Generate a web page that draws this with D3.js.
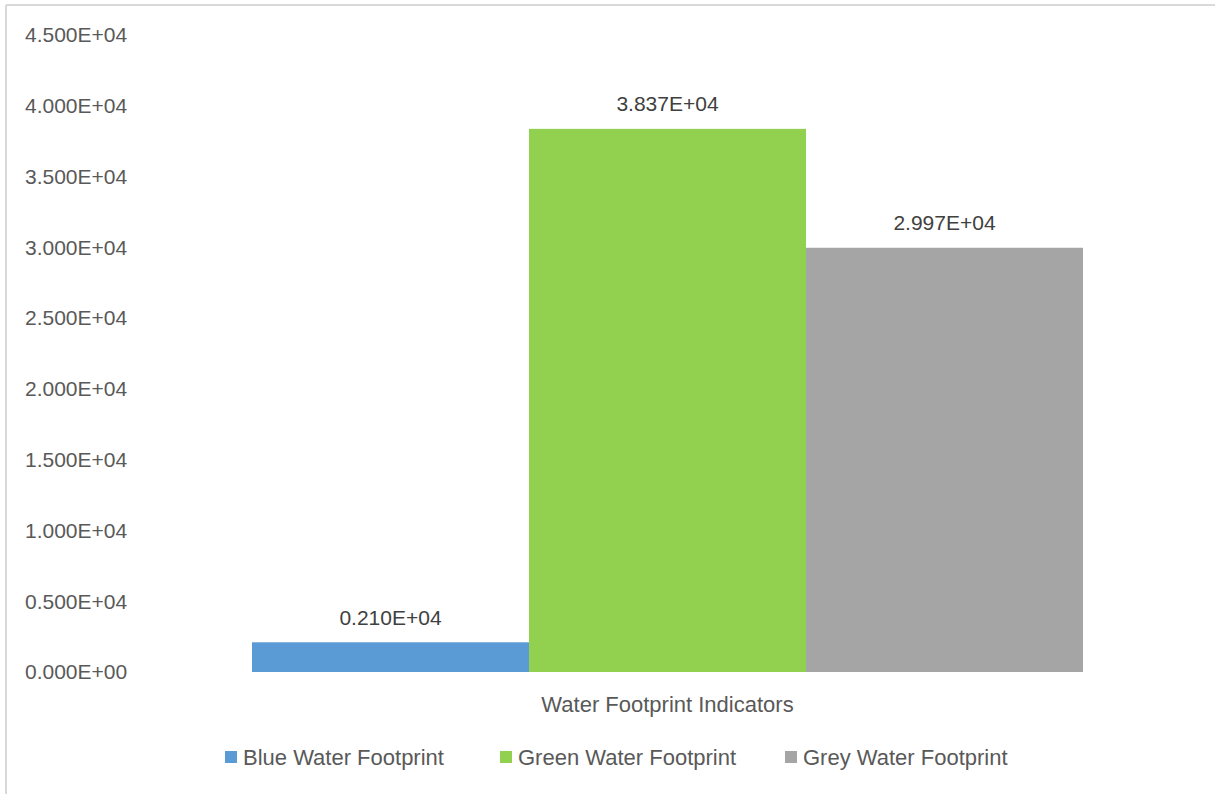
<!DOCTYPE html>
<html>
<head>
<meta charset="utf-8">
<script src="https://cdn.jsdelivr.net/npm/d3@7"></script>
<style>
  body { margin: 0; background: #fff; }
  text { font-family: "Liberation Sans", Arial, sans-serif; fill: #595959; }
</style>
</head>
<body>
<div id="chart"></div>
<script>
// Water footprint indicators, one group with three series
const categories = ["Water Footprint Indicators"];
const seriesNames = ["Blue Water Footprint", "Green Water Footprint", "Grey Water Footprint"];
const seriesValues = [2100, 38370, 29970];
const valueLabels = ["0.210E+04", "3.837E+04", "2.997E+04"];
const yTicks = [0, 5000, 10000, 15000, 20000, 25000, 30000, 35000, 40000, 45000];
const yTickLabels = ["0.000E+00", "0.500E+04", "1.000E+04", "1.500E+04", "2.000E+04",
                     "2.500E+04", "3.000E+04", "3.500E+04", "4.000E+04", "4.500E+04"];
const colors = ["#5B9BD5", "#92D050", "#A5A5A5"];

const width = 1215;
const height = 794;
const margin = { top: 35, right: 132, bottom: 122, left: 252 };

const svg = d3.select("#chart")
    .append("svg")
    .attr("width", width)
    .attr("height", height);

// frame (top and left edges only visible)
svg.append("line").attr("x1", 6).attr("x2", width).attr("y1", 5).attr("y2", 5)
    .attr("stroke", "#d9d9d9").attr("stroke-width", 2);
svg.append("line").attr("x1", 6).attr("x2", 6).attr("y1", 5).attr("y2", height)
    .attr("stroke", "#d9d9d9").attr("stroke-width", 2);

const x0 = d3.scaleBand()
    .domain(categories)
    .range([margin.left, width - margin.right])
    .padding(0);

const x1 = d3.scaleBand()
    .domain(seriesNames)
    .range([0, x0.bandwidth()])
    .padding(0);

const y = d3.scaleLinear()
    .domain([0, 45000])
    .range([height - margin.bottom, margin.top]);

// y tick labels
svg.append("g")
    .selectAll("text")
    .data(yTicks)
    .enter()
    .append("text")
    .attr("x", 25)
    .attr("y", d => y(d))
    .attr("dy", "0.35em")
    .style("font-size", "21px")
    .text((d, i) => yTickLabels[i]);

const group = svg.append("g")
    .attr("transform", `translate(${x0(categories[0])},0)`);

group.selectAll("rect")
    .data(seriesValues)
    .enter()
    .append("rect")
    .attr("x", (d, i) => x1(seriesNames[i]))
    .attr("y", d => y(d))
    .attr("width", x1.bandwidth())
    .attr("height", d => y(0) - y(d))
    .attr("fill", (d, i) => colors[i]);

group.selectAll(".val")
    .data(seriesValues)
    .enter()
    .append("text")
    .attr("class", "val")
    .attr("x", (d, i) => x1(seriesNames[i]) + x1.bandwidth() / 2)
    .attr("y", d => y(d) - 25)
    .attr("dy", "0.35em")
    .attr("text-anchor", "middle")
    .style("font-size", "21px")
    .style("fill", "#404040")
    .text((d, i) => valueLabels[i]);

// category label
svg.append("text")
    .attr("x", x0(categories[0]) + x0.bandwidth() / 2)
    .attr("y", 704)
    .attr("dy", "0.35em")
    .attr("text-anchor", "middle")
    .style("font-size", "22px")
    .text(categories[0]);

// legend
const legendX = [225, 500, 785];
const legend = svg.append("g")
    .selectAll("g")
    .data(seriesNames)
    .enter()
    .append("g")
    .attr("transform", (d, i) => `translate(${legendX[i]},757)`);

legend.append("rect")
    .attr("x", 0)
    .attr("y", -6)
    .attr("width", 12)
    .attr("height", 12)
    .attr("fill", (d, i) => colors[i]);

legend.append("text")
    .attr("x", 18)
    .attr("y", 0)
    .attr("dy", "0.35em")
    .style("font-size", "22px")
    .text(d => d);
</script>
</body>
</html>
